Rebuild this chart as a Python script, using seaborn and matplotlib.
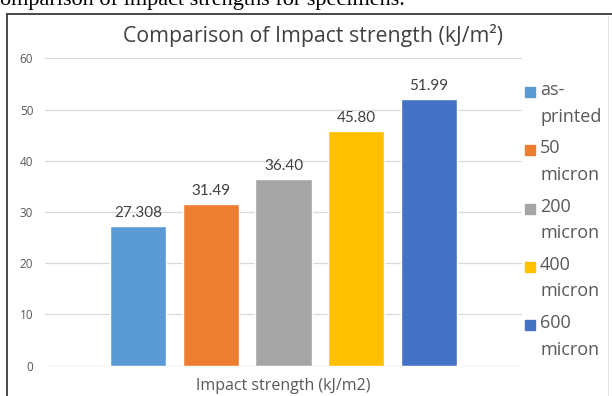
import matplotlib
matplotlib.use("Agg")
import matplotlib.pyplot as plt
from matplotlib.patches import Rectangle
from matplotlib.lines import Line2D
import seaborn as sns
import pandas as pd

# ---- data ----
series = ["as-printed", "50 micron", "200 micron", "400 micron", "600 micron"]
legend_lines = [["as-", "printed"], ["50", "micron"], ["200", "micron"],
                ["400", "micron"], ["600", "micron"]]
values = [27.308, 31.49, 36.40, 45.80, 51.99]
value_text = ["27.308", "31.49", "36.40", "45.80", "51.99"]
colors = ["#5B9BD5", "#ED7D31", "#A5A5A5", "#FFC000", "#4472C4"]
category = "Impact strength (kJ/m2)"
yticks = [0, 10, 20, 30, 40, 50, 60]
title = "Comparison of Impact strength (kJ/m\u00b2)"
caption = "omparison of impact strengths for specimens."

df = pd.DataFrame({"cat": [category] * len(series), "series": series, "value": values})

sns.set_style("white")
plt.rcParams["font.family"] = ["Lato", "DejaVu Sans"]
OPEN = ["Open Sans", "DejaVu Sans"]

W, H = 612, 396
fig = plt.figure(figsize=(W / 100, H / 100), dpi=100)
fig.patch.set_facecolor("white")

def fx(px):
    return px / W

def fy(py):
    return 1 - py / H

ax_left, ax_right, ax_top, ax_bottom = 45, 522, 58.3, 365.7
ax = fig.add_axes([fx(ax_left), fy(ax_bottom), (ax_right - ax_left) / W, (ax_bottom - ax_top) / H])

sns.barplot(data=df, x="cat", y="value", hue="series", hue_order=series,
            palette=colors, saturation=1, width=0.7615, gap=0.222,
            errorbar=None, legend=False, ax=ax)

ax.set_xlim(-0.5, 0.5)
ax.set_ylim(0, 60)
ax.set_yticks(yticks)
ax.set_yticklabels([str(t) for t in yticks], family=OPEN)
ax.set_xticks([0])
ax.set_xticklabels([category], family=OPEN)
ax.set_xlabel("")
ax.set_ylabel("")
ax.set_axisbelow(True)
ax.yaxis.grid(True, color="#D9D9D9", linewidth=0.9)
ax.xaxis.grid(False)
for s in ax.spines.values():
    s.set_visible(False)
ax.tick_params(axis="y", length=0, pad=8.5, labelsize=8.5, labelcolor="#595959")
ax.tick_params(axis="x", length=0, pad=8.5, labelsize=11.5, labelcolor="#595959")
ax.axhline(0, color="#D9D9D9", linewidth=0.9, zorder=0)

for cont, txt in zip(ax.containers, value_text):
    ax.bar_label(cont, labels=[txt], padding=4.5, fontsize=11, color="#404040")

# title
fig.text(fx(313), fy(41.7), title, ha="center", va="baseline",
         fontsize=15.3, color="#404040", family=OPEN)

# legend (manual, Excel style)
for i, (lines, col) in enumerate(zip(legend_lines, colors)):
    base = 95 + i * 58.3
    fig.patches.append(Rectangle((fx(525), fy(base + 2)), 10 / W, 10 / H,
                                 transform=fig.transFigure, color=col))
    fig.text(fx(540), fy(base), lines[0], ha="left", va="baseline",
             fontsize=13, color="#595959", family=OPEN)
    fig.text(fx(540), fy(base + 26.5), lines[1], ha="left", va="baseline",
             fontsize=13, color="#595959", family=OPEN)

# frame
fig.lines.append(Line2D([fx(7), fx(612)], [fy(14), fy(14)], transform=fig.transFigure,
                        color="#3A3A3A", linewidth=1.3))
fig.lines.append(Line2D([fx(7), fx(7)], [fy(14), fy(396)], transform=fig.transFigure,
                        color="#3A3A3A", linewidth=1.3))
fig.lines.append(Line2D([fx(608), fx(608)], [fy(16), fy(396)], transform=fig.transFigure,
                        color="#E3E3E3", linewidth=0.8))

# cropped caption above the chart
fig.text(fx(0), fy(5), caption, ha="left", va="baseline",
         fontsize=16, color="black", family=["Liberation Serif", "DejaVu Serif"])

fig.savefig("out.png", dpi=100)
